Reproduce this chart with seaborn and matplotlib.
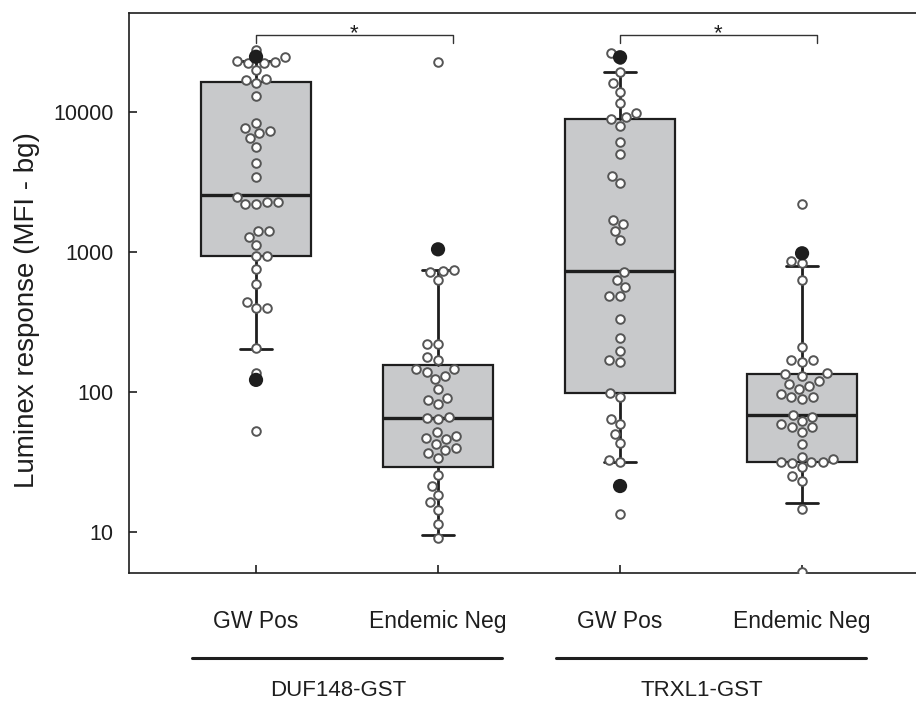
import numpy as np
import pandas as pd
import seaborn as sns
import matplotlib.pyplot as plt
import matplotlib.transforms as mtransforms

# categories
groups = ['DUF148 GW Pos', 'DUF148 Endemic Neg', 'TRXL1 GW Pos', 'TRXL1 Endemic Neg']
tick_labels = ['GW Pos', 'Endemic Neg', 'GW Pos', 'Endemic Neg']
antigens = ['DUF148-GST', 'TRXL1-GST']

# individual responses (MFI - bg)
duf_gw_pos = [27700, 22850, 22500, 22500, 24550, 23200, 19950, 17300, 16000, 16900,
              13070, 8400, 7100, 7350, 7640, 6520, 5650, 4300, 3450, 2480,
              2265, 2190, 2200, 2265, 1420, 1420, 1285, 1123, 936, 933,
              752, 590, 396, 396, 442, 205, 136, 52.6]
duf_endemic_neg = [22750, 716, 743, 631, 735, 220, 220, 177, 169, 146,
                   140, 131, 146, 124, 105, 90, 82, 87.7, 65.5, 64.4,
                   66.3, 48.5, 46.7, 51.5, 42.5, 45.9, 39.6, 36.5, 38.5, 33.6,
                   25.5, 21.3, 18.4, 16.3, 14.4, 11.4, 9.0]
trx_gw_pos = [26250, 23900, 19200, 16000, 13960, 11650, 9790, 9260, 8880, 7980,
              6140, 4990, 3490, 3100, 1693, 1585, 1420, 1218, 722, 631,
              560, 485, 481, 331, 244, 197, 168, 164, 91.6, 98.9,
              59, 64.5, 50.1, 43, 31.6, 32.5, 13.4]
trx_endemic_neg = [2200, 830, 866, 631, 208, 169, 163, 168, 134, 136,
                   131, 114, 105, 111, 120, 91.6, 89, 91.6, 96.8, 68.5,
                   66.7, 56, 59, 62.4, 52, 56, 42.5, 31, 31.8, 34.5,
                   31.8, 33, 31.8, 29, 23.2, 25.1, 14.5, 5.2]

# box statistics (10th / 25th / 50th / 75th / 90th percentiles)
whisker_low = [204, 9.5, 31.8, 16]
q1 = [930, 29.2, 98.9, 31.8]
median = [2550, 65.5, 731, 68.5]
q3 = [16400, 156, 8910, 134]
whisker_high = [23200, 740, 19200, 794]
# 5th / 95th percentiles
p5 = [122, np.nan, 21.3, np.nan]
p95 = [24800, 1045, 24600, 979]

# significant pairs
sig_pairs = [(0, 1), (2, 3)]
sig_labels = ['*', '*']

values = [duf_gw_pos, duf_endemic_neg, trx_gw_pos, trx_endemic_neg]
df = pd.DataFrame({
    'group': np.repeat(groups, [len(v) for v in values]),
    'value': np.concatenate(values),
})

sns.set_style('ticks')
plt.rcParams['font.family'] = ['Liberation Sans', 'DejaVu Sans']
ink = '#1e1e1e'

fig = plt.figure(figsize=(9.16, 7.01), dpi=100)
ax = fig.add_axes([0.1408, 0.1826, 0.8592, 0.7989])
ax.set_yscale('log')
ax.set_ylim(5.095, 50950)
ax.set_xlim(-0.698, 3.626)

stats = [dict(whislo=a, q1=b, med=c, q3=d, whishi=e, label=g)
         for a, b, c, d, e, g in zip(whisker_low, q1, median, q3, whisker_high, groups)]
ax.bxp(stats, positions=range(len(groups)), widths=0.6, capwidths=0.18,
       patch_artist=True, showfliers=False, manage_ticks=False,
       boxprops=dict(facecolor='#c8c9cb', edgecolor=ink, linewidth=1.6),
       medianprops=dict(color=ink, linewidth=2.4),
       whiskerprops=dict(color=ink, linewidth=2.0),
       capprops=dict(color=ink, linewidth=2.0))

sns.swarmplot(data=df, x='group', y='value', order=groups, ax=ax,
              color='white', edgecolor='#555555', linewidth=1.4, size=6.2, zorder=3)

pct = pd.DataFrame({'pos': np.tile(np.arange(len(groups)), 2),
                    'value': np.concatenate([p5, p95])}).dropna()
sns.scatterplot(data=pct, x='pos', y='value', ax=ax, color=ink, s=105,
                edgecolor='none', zorder=4, legend=False)

ax.set_xlim(-0.698, 3.626)
ax.set_ylim(5.095, 50950)
ax.set_yticks([10, 100, 1000, 10000])
ax.set_yticklabels(['10', '100', '1000', '10000'])
ax.yaxis.set_minor_locator(plt.NullLocator())
ax.set_xticks(range(len(groups)))
ax.set_xticklabels(tick_labels)
ax.tick_params(axis='both', direction='in', length=6, width=1.2, colors=ink)
ax.tick_params(axis='y', labelsize=15.5, pad=11)
ax.tick_params(axis='x', labelsize=16.5, pad=27)
ax.set_xlabel('')
ax.set_ylabel('Luminex response (MFI - bg)', fontsize=20, color=ink)
ax.yaxis.set_label_coords(-0.113, 0.47)

for side in ['left', 'bottom', 'top']:
    ax.spines[side].set_linewidth(1.2)
    ax.spines[side].set_color(ink)
ax.spines['right'].set_visible(False)

# significance brackets
for (i, j), lab in zip(sig_pairs, sig_labels):
    y_top, y_drop = 35500, 31100
    ax.plot([i, i, j + 0.08, j + 0.08], [y_drop, y_top, y_top, y_drop],
            color='#333333', lw=1.0, zorder=2)
    ax.text((i + j + 0.08) / 2, y_top * 0.86, lab, ha='center', va='bottom',
            fontsize=16, color=ink)

# antigen group lines and labels under the axis
trans = mtransforms.blended_transform_factory(ax.transData, ax.transAxes)
for k, name in enumerate(antigens):
    center = 2 * k + 0.5
    ax.plot([center - 0.85, center + 0.85], [-0.152, -0.152], transform=trans,
            color=ink, lw=2.2, clip_on=False)
    ax.text(center - 0.05, -0.21, name, transform=trans, ha='center', va='center',
            fontsize=16, color=ink)

fig.savefig('out.png', dpi=100)
